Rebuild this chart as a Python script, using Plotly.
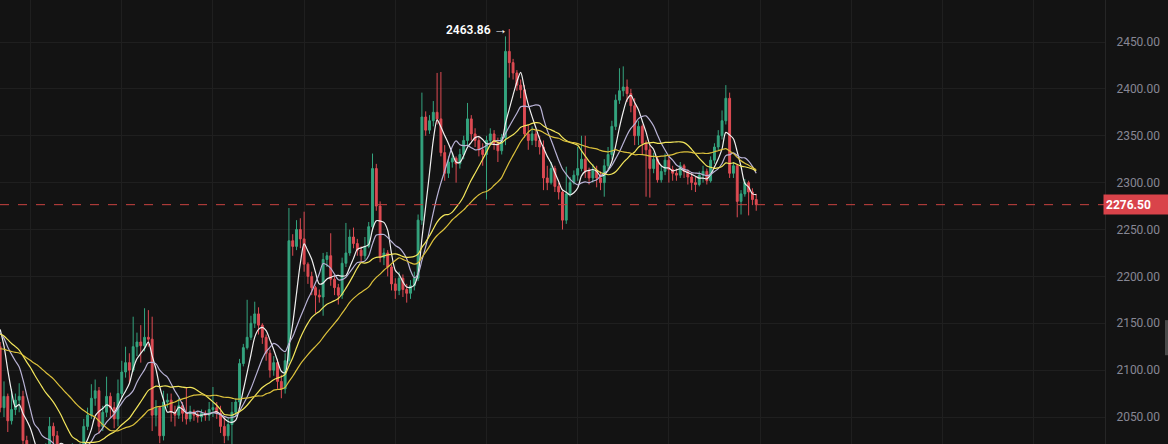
import plotly.graph_objects as go
import pandas as pd

# ---- data (hourly candles) ----
prior_closes = [2085, 2090, 2088, 2095, 2092, 2098, 2094, 2100, 2090, 2085,
                2110, 2125, 2140, 2135, 2145, 2150, 2140, 2135, 2145, 2145,
                2130, 2140, 2135, 2138, 2137, 2160, 2175, 2172, 2150]

opens = [2125, 2060, 2072, 2046, 2058, 2068, 2072, 2025, 2008, 2014,
         2003, 2010, 2000, 2016, 2040, 2030, 2008, 2016, 2004, 2011,
         2016, 2006, 2016, 2040, 2052, 2070, 2078, 2040, 2055, 2072,
         2060, 2048, 2075, 2098, 2108, 2100, 2125, 2130, 2126, 2135,
         2133, 2052, 2060, 2030, 2066, 2068, 2055, 2052, 2062, 2054,
         2048, 2056, 2052, 2050, 2054, 2052, 2058, 2060, 2054, 2040,
         2030, 2042, 2055, 2066, 2107, 2124, 2135, 2150, 2160, 2148,
         2135, 2118, 2100, 2108, 2088, 2080, 2110, 2238, 2232, 2250,
         2240, 2213, 2200, 2188, 2180, 2178, 2218, 2222, 2197, 2188,
         2180, 2214, 2225, 2242, 2235, 2228, 2222, 2232, 2253, 2315,
         2275, 2220, 2225, 2210, 2192, 2185, 2198, 2186, 2182, 2190,
         2198, 2260, 2370, 2356, 2366, 2375, 2368, 2332, 2310, 2322,
         2326, 2320, 2330, 2345, 2368, 2352, 2345, 2335, 2330, 2345,
         2352, 2342, 2334, 2348, 2440, 2428, 2417, 2404, 2399, 2352,
         2345, 2352, 2345, 2338, 2305, 2300, 2315, 2296, 2290, 2260,
         2288, 2300, 2308, 2315, 2325, 2312, 2305, 2313, 2305, 2300,
         2318, 2330, 2360, 2388, 2398, 2402, 2395, 2382, 2350, 2360,
         2342, 2335, 2315, 2325, 2303, 2312, 2324, 2314, 2310, 2308,
         2318, 2312, 2306, 2300, 2298, 2308, 2312, 2302, 2324, 2338,
         2350, 2366, 2390, 2310, 2318, 2280, 2288, 2300, 2290, 2282]

highs = [2130, 2088, 2075, 2080, 2075, 2086, 2078, 2030, 2020, 2018,
         2016, 2014, 2022, 2050, 2044, 2035, 2022, 2020, 2018, 2022,
         2020, 2022, 2048, 2060, 2085, 2090, 2082, 2062, 2093, 2076,
         2066, 2090, 2110, 2125, 2118, 2157, 2140, 2148, 2166, 2164,
         2157, 2068, 2062, 2078, 2075, 2075, 2062, 2070, 2066, 2082,
         2062, 2058, 2056, 2058, 2057, 2066, 2082, 2066, 2062, 2050,
         2050, 2066, 2070, 2112, 2128, 2175, 2158, 2173, 2167, 2150,
         2138, 2122, 2115, 2112, 2095, 2118, 2273, 2245, 2260, 2262,
         2269, 2215, 2205, 2190, 2186, 2225, 2226, 2246, 2200, 2192,
         2220, 2257, 2250, 2252, 2240, 2232, 2242, 2258, 2331, 2320,
         2280, 2230, 2228, 2212, 2198, 2205, 2202, 2192, 2196, 2205,
         2266, 2396, 2376, 2372, 2387, 2417, 2418, 2340, 2328, 2332,
         2328, 2336, 2350, 2385, 2372, 2358, 2350, 2342, 2350, 2358,
         2356, 2348, 2352, 2456, 2463.86, 2432, 2420, 2410, 2404, 2362,
         2360, 2356, 2350, 2345, 2318, 2322, 2318, 2300, 2292, 2317,
         2306, 2313, 2338, 2350, 2350, 2316, 2320, 2318, 2312, 2325,
         2338, 2366, 2394, 2422, 2424, 2410, 2400, 2390, 2366, 2362,
         2345, 2340, 2332, 2328, 2318, 2331, 2328, 2318, 2315, 2322,
         2320, 2314, 2310, 2306, 2312, 2318, 2315, 2328, 2342, 2356,
         2377, 2404, 2396, 2322, 2320, 2292, 2304, 2302, 2294, 2288]

lows = [2055, 2050, 2034, 2042, 2052, 2055, 2015, 1995, 1998, 1990,
        1996, 1988, 1996, 2022, 2020, 2000, 2002, 1992, 1995, 2002,
        1998, 2002, 2010, 2036, 2048, 2062, 2032, 2035, 2050, 2050,
        2038, 2040, 2070, 2092, 2086, 2098, 2115, 2108, 2120, 2125,
        2035, 2040, 2022, 2025, 2060, 2045, 2040, 2048, 2045, 2042,
        2045, 2046, 2044, 2045, 2046, 2046, 2050, 2048, 2033, 2022,
        2025, 2020, 2050, 2062, 2104, 2122, 2132, 2145, 2138, 2128,
        2110, 2092, 2094, 2080, 2070, 2075, 2106, 2222, 2228, 2230,
        2205, 2192, 2180, 2161, 2172, 2158, 2210, 2190, 2180, 2170,
        2176, 2210, 2222, 2230, 2222, 2215, 2218, 2230, 2248, 2270,
        2215, 2212, 2200, 2185, 2176, 2180, 2178, 2172, 2176, 2185,
        2195, 2255, 2350, 2352, 2360, 2362, 2328, 2302, 2305, 2316,
        2300, 2315, 2325, 2340, 2345, 2338, 2328, 2318, 2282, 2340,
        2335, 2322, 2330, 2340, 2412, 2410, 2398, 2390, 2348, 2335,
        2340, 2338, 2330, 2292, 2292, 2298, 2290, 2282, 2250, 2256,
        2285, 2298, 2302, 2312, 2305, 2298, 2300, 2295, 2292, 2285,
        2312, 2325, 2356, 2384, 2392, 2386, 2375, 2340, 2340, 2330,
        2285, 2284, 2310, 2300, 2300, 2308, 2300, 2302, 2302, 2305,
        2305, 2298, 2292, 2290, 2296, 2300, 2298, 2300, 2320, 2334,
        2346, 2362, 2305, 2305, 2263, 2266, 2285, 2265, 2276, 2270]

closes = [2060, 2072, 2046, 2058, 2068, 2072, 2025, 2008, 2014, 2003,
          2010, 2000, 2016, 2040, 2030, 2008, 2016, 2004, 2011, 2016,
          2006, 2016, 2040, 2052, 2070, 2078, 2040, 2055, 2072, 2060,
          2048, 2075, 2098, 2108, 2100, 2125, 2130, 2126, 2135, 2133,
          2052, 2060, 2030, 2066, 2068, 2055, 2052, 2062, 2054, 2048,
          2056, 2052, 2050, 2054, 2052, 2058, 2060, 2054, 2040, 2030,
          2042, 2055, 2066, 2107, 2124, 2135, 2150, 2160, 2148, 2135,
          2118, 2100, 2108, 2088, 2080, 2110, 2238, 2232, 2250, 2240,
          2213, 2200, 2188, 2180, 2178, 2218, 2222, 2197, 2188, 2180,
          2214, 2225, 2242, 2235, 2228, 2222, 2232, 2253, 2315, 2275,
          2220, 2225, 2210, 2192, 2185, 2198, 2186, 2182, 2190, 2198,
          2260, 2370, 2356, 2366, 2375, 2368, 2332, 2310, 2322, 2326,
          2320, 2330, 2345, 2368, 2352, 2345, 2335, 2330, 2345, 2352,
          2342, 2334, 2348, 2440, 2428, 2417, 2404, 2399, 2352, 2345,
          2352, 2345, 2338, 2305, 2300, 2315, 2296, 2290, 2260, 2288,
          2300, 2308, 2315, 2325, 2312, 2305, 2313, 2305, 2300, 2318,
          2330, 2360, 2388, 2398, 2402, 2395, 2382, 2350, 2360, 2342,
          2335, 2315, 2325, 2303, 2312, 2324, 2314, 2310, 2308, 2318,
          2312, 2306, 2300, 2298, 2308, 2312, 2302, 2324, 2338, 2350,
          2366, 2390, 2310, 2318, 2280, 2288, 2300, 2290, 2282, 2276.5]

candle_index = list(range(len(closes)))
ma_periods = [5, 10, 20, 30]
ma_colors = ["#f0f0f0", "#b9b3d6", "#f3e65c", "#dcc13c"]

price_ticks = [2050, 2100, 2150, 2200, 2250, 2300, 2350, 2400, 2450]
price_labels = ["2050.00", "2100.00", "2150.00", "2200.00", "2250.00",
                "2300.00", "2350.00", "2400.00", "2450.00"]
last_price = 2276.5
last_label = "2276.50"
high_price = 2463.86
high_label = "2463.86 <span style='font-size:14px'>→</span>"
high_index = 134

BG = "#131313"
GRID = "#1f1f1f"
UP = "#34a47f"
DOWN = "#de4b53"

fig = go.Figure()
fig.add_trace(go.Candlestick(
    x=candle_index, open=opens, high=highs, low=lows, close=closes,
    increasing=dict(line=dict(color=UP, width=1), fillcolor=UP),
    decreasing=dict(line=dict(color=DOWN, width=1), fillcolor=DOWN),
    whiskerwidth=0, hoverinfo="skip", showlegend=False,
))

all_closes = pd.Series(prior_closes + closes)
for p, c in zip(ma_periods, ma_colors):
    ma = all_closes.rolling(p).mean().iloc[len(prior_closes):].tolist()
    fig.add_trace(go.Scatter(x=candle_index, y=ma, mode="lines",
                             line=dict(color=c, width=1.2, shape="spline", smoothing=0.8),
                             hoverinfo="skip", showlegend=False))

fig.add_shape(type="line", xref="paper", yref="y", x0=0, x1=1,
              y0=last_price, y1=last_price,
              line=dict(color="#c8423f", width=1, dash="dash"))

fig.add_annotation(xref="paper", yref="y", x=1, y=last_price,
                   xanchor="left", yanchor="middle", xshift=-2,
                   text="<b>" + last_label + "</b>", showarrow=False,
                   bgcolor="#d9434a", width=62, height=15, borderpad=2,
                   align="left", font=dict(color="#ffffff", size=12, family="Roboto"))

fig.add_annotation(xref="x", yref="y", x=high_index, y=high_price,
                   xanchor="right", yanchor="middle", xshift=1,
                   text=high_label, showarrow=False,
                   font=dict(color="#ffffff", size=12, family="Roboto", weight=600))

# small scrollbar stub at right edge
fig.add_shape(type="rect", xref="paper", yref="paper",
              x0=1165 / 1105, x1=1168 / 1105, y0=0.2, y1=0.279,
              fillcolor="#4a4a4a", line=dict(width=0))

fig.update_layout(
    width=1168, height=444,
    margin=dict(l=0, r=63, t=0, b=0),
    paper_bgcolor=BG, plot_bgcolor=BG,
    showlegend=False,
    xaxis=dict(range=[-0.05, 290.8], showticklabels=False,
               tickvals=list(range(8, 291, 24)), showgrid=True,
               gridcolor=GRID, gridwidth=1, zeroline=False,
               rangeslider=dict(visible=False), fixedrange=True),
    yaxis=dict(side="right", range=[2021.2, 2494.8],
               tickvals=price_ticks, ticktext=price_labels,
               tickfont=dict(color="#878794", size=12, family="Roboto"),
               showgrid=True, gridcolor=GRID, gridwidth=1,
               showline=True, linecolor="#262626", linewidth=1,
               zeroline=False, ticks="", ticklabelstandoff=8, fixedrange=True),
)

fig.write_html("out.html", config={"displayModeBar": False},
               post_script="document.body.style.margin='0';document.body.style.padding='0';document.body.style.background='#131313';")
